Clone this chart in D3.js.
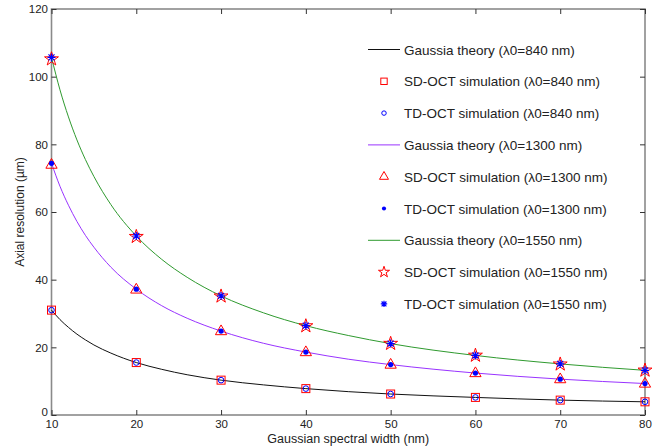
<!DOCTYPE html>
<html>
<head>
<meta charset="utf-8">
<script src="https://cdn.jsdelivr.net/npm/d3@7"></script>
<style>
  body { margin: 0; background: #fff; }
  svg { display: block; font-family: Arial, "Liberation Sans", sans-serif; }
</style>
</head>
<body>
<svg id="chart" width="659" height="448"></svg>
<script>
// spectral widths of the simulated points (nm)
const widths = [10, 20, 30, 40, 50, 60, 70, 80];

// axial resolution (um)
const sd840 = [31.0, 15.5, 10.3, 7.8, 6.2, 5.2, 4.4, 3.9];
const td840 = [31.0, 15.5, 10.3, 7.8, 6.2, 5.2, 4.4, 3.9];
const sd1300 = [73.9, 37.0, 24.7, 18.5, 14.8, 12.3, 10.5, 9.2];
const td1300 = [74.4, 37.2, 24.8, 18.6, 14.9, 12.4, 10.6, 9.3];
const sd1550 = [105.2, 52.7, 35.1, 26.3, 21.1, 17.6, 15.0, 13.2];
const td1550 = [105.7, 52.9, 35.2, 26.4, 21.1, 17.6, 15.1, 13.2];

// theory curves
const theoryX = [10, 11, 12, 13, 14, 15, 17, 20, 23, 26, 30, 35, 40, 45, 50, 60, 70, 80];
const theory840 = [31.0, 28.2, 25.9, 23.9, 22.2, 20.7, 18.3, 15.5, 13.5, 11.9, 10.3, 8.9, 7.8, 6.9, 6.2, 5.2, 4.4, 3.9];
const theory1300 = [74.4, 67.6, 62.0, 57.2, 53.1, 49.6, 43.7, 37.2, 32.3, 28.6, 24.8, 21.2, 18.6, 16.5, 14.9, 12.4, 10.6, 9.3];
const theory1550 = [105.7, 96.1, 88.1, 81.3, 75.5, 70.5, 62.2, 52.9, 46.0, 40.7, 35.2, 30.2, 26.4, 23.5, 21.1, 17.6, 15.1, 13.2];

const xTicks = [10, 20, 30, 40, 50, 60, 70, 80];
const yTicks = [0, 20, 40, 60, 80, 100, 120];

const legendLabels = [
  'Gaussia theory (λ0=840 nm)',
  'SD-OCT simulation (λ0=840 nm)',
  'TD-OCT simulation (λ0=840 nm)',
  'Gaussia theory (λ0=1300 nm)',
  'SD-OCT simulation (λ0=1300 nm)',
  'TD-OCT simulation (λ0=1300 nm)',
  'Gaussia theory (λ0=1550 nm)',
  'SD-OCT simulation (λ0=1550 nm)',
  'TD-OCT simulation (λ0=1550 nm)'
];

const RED = '#ff0000', BLUE = '#0000ff';
const PURPLE = '#9933ff', GREEN = '#2f9a2f';

const svg = d3.select('#chart');
const M = { left: 51.5, right: 645, top: 9, bottom: 415 };

const x = d3.scaleLinear().domain([10, 80]).range([M.left, M.right]);
const y = d3.scaleLinear().domain([0, 120]).range([M.bottom, M.top]);

const g = svg.append('g');

// frame
g.append('rect')
  .attr('x', M.left).attr('y', M.top)
  .attr('width', M.right - M.left).attr('height', M.bottom - M.top)
  .attr('fill', 'none').attr('stroke', '#8a8a8a').attr('stroke-width', 1.6);

// axes (ticks inward)
const axisStyle = sel => {
  sel.select('.domain').remove();
  sel.selectAll('.tick line').attr('stroke', '#333').attr('stroke-width', 1);
  sel.selectAll('.tick text').attr('fill', '#222').style('font-size', '11.5px')
    .style('font-family', 'Arial, "Liberation Sans", sans-serif');
};
g.append('g').attr('transform', `translate(0,${M.bottom})`)
  .call(d3.axisBottom(x).tickValues(xTicks).tickSize(-5).tickPadding(4.5))
  .call(axisStyle);
g.append('g').attr('transform', `translate(0,${M.top})`)
  .call(d3.axisTop(x).tickValues(xTicks).tickSize(-5).tickFormat(''))
  .call(axisStyle);
const yAxisG = g.append('g').attr('transform', `translate(${M.left},0)`)
  .call(d3.axisLeft(y).tickValues(yTicks).tickSize(-5).tickPadding(3.5))
  .call(axisStyle);
// the "0" label sits a little higher, just above the "10"
yAxisG.selectAll('.tick text').filter(d => d === 0).attr('dy', '0.05em');
g.append('g').attr('transform', `translate(${M.right},0)`)
  .call(d3.axisRight(y).tickValues(yTicks).tickSize(-5).tickFormat(''))
  .call(axisStyle);

// axis labels
svg.append('text')
  .attr('x', (M.left + M.right) / 2).attr('y', 443)
  .attr('text-anchor', 'middle').style('font-size', '12.5px').attr('fill', '#222')
  .text('Gaussian spectral width (nm)');
svg.append('text')
  .attr('transform', `translate(24,${(M.top + M.bottom) / 2}) rotate(-90)`)
  .attr('text-anchor', 'middle').style('font-size', '12px').attr('fill', '#222')
  .text('Axial resolution (µm)');

// theory curves
const line = d3.line()
  .x((d, i) => x(theoryX[i]))
  .y(d => y(d))
  .curve(d3.curveMonotoneX);

const theories = [
  { values: theory840, color: '#111' },
  { values: theory1300, color: PURPLE },
  { values: theory1550, color: GREEN }
];
g.selectAll('path.theory').data(theories).join('path')
  .attr('class', 'theory')
  .attr('d', d => line(d.values))
  .attr('fill', 'none')
  .attr('stroke', d => d.color)
  .attr('stroke-width', 1);

// marker drawing
function marker(sel, type, cx, cy, s = 1) {
  const m = sel.append('g').attr('transform', `translate(${cx},${cy}) scale(${s})`);
  if (type === 'square') {
    m.append('rect').attr('x', -4).attr('y', -4).attr('width', 8).attr('height', 8)
      .attr('fill', 'none').attr('stroke', RED).attr('stroke-width', 1 / s);
  } else if (type === 'circle') {
    m.append('circle').attr('r', 2.8).attr('fill', 'none').attr('stroke', BLUE).attr('stroke-width', 1 / s);
  } else if (type === 'triangle') {
    m.append('path').attr('d', d3.symbol(d3.symbolTriangle, 55)())
      .attr('fill', 'none').attr('stroke', RED).attr('stroke-width', 1 / s);
  } else if (type === 'dot') {
    m.append('circle').attr('r', 2.6).attr('fill', BLUE);
  } else if (type === 'star') {
    m.append('path').attr('d', d3.symbol(d3.symbolStar, 60)())
      .attr('fill', 'none').attr('stroke', RED).attr('stroke-width', 1 / s);
  } else if (type === 'asterisk') {
    m.append('path').attr('d', 'M-4,0H4M0,-4V4M-3,-3L3,3M-3,3L3,-3')
      .attr('stroke', BLUE).attr('stroke-width', 1.2 / s);
  }
}

const sims = [
  { values: sd840, type: 'square' },
  { values: td840, type: 'circle' },
  { values: sd1300, type: 'triangle' },
  { values: td1300, type: 'dot' },
  { values: sd1550, type: 'star' },
  { values: td1550, type: 'asterisk' }
];
const gMarks = g.append('g');
sims.forEach(s => {
  s.values.forEach((v, i) => marker(gMarks, s.type, x(widths[i]), y(v)));
});

// legend
const legendItems = [
  { kind: 'line', color: '#111' },
  { kind: 'square' }, { kind: 'circle' },
  { kind: 'line', color: PURPLE },
  { kind: 'triangle' }, { kind: 'dot' },
  { kind: 'line', color: GREEN },
  { kind: 'star' }, { kind: 'asterisk' }
];
const leg = svg.append('g');
legendItems.forEach((it, i) => {
  const ly = 49.5 + i * 31.8;
  if (it.kind === 'line') {
    leg.append('line').attr('x1', 368).attr('x2', 400).attr('y1', ly).attr('y2', ly)
      .attr('stroke', it.color).attr('stroke-width', 1);
  } else {
    marker(leg, it.kind, 384, ly, 0.8);
  }
  leg.append('text').attr('x', 404).attr('y', ly + 5)
    .style('font-size', '13.5px').attr('fill', '#222')
    .text(legendLabels[i]);
});
</script>
</body>
</html>
